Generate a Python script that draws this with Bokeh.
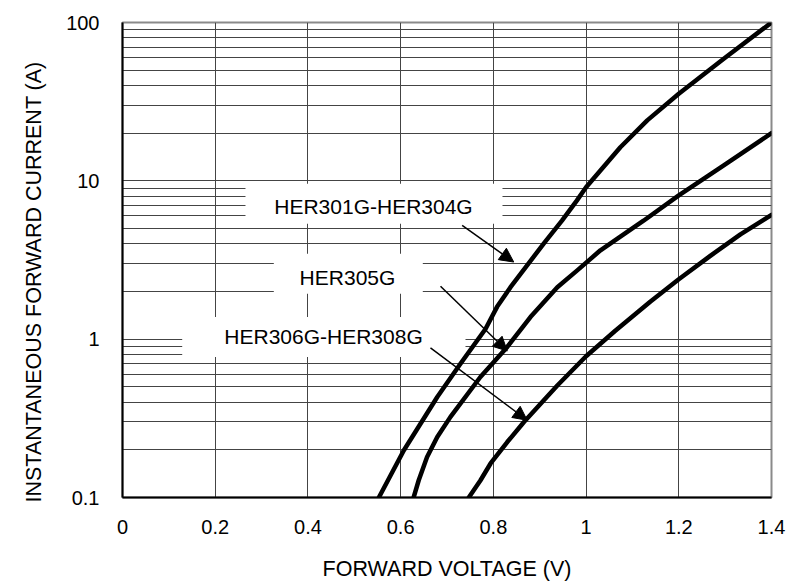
from bokeh.plotting import figure
from bokeh.models import (FixedTicker, CustomJSTickFormatter, Arrow, NormalHead,
                          Range1d, ColumnDataSource, Title)
from bokeh.embed import file_html
from bokeh.resources import INLINE
from bokeh.core.properties import value

# ---- axes ----
x_ticks = [0, 0.2, 0.4, 0.6, 0.8, 1.0, 1.2, 1.4]
y_ticks = [0.1, 1, 10, 100]
y_grid = [m * d for d in (0.1, 1, 10) for m in range(1, 10)] + [100]

# ---- curves (forward voltage V, forward current A) ----
v_her301 = [0.553, 0.607, 0.679, 0.729, 0.783, 0.808, 0.837, 0.909, 0.948, 0.980,
            1.0, 1.074, 1.132, 1.2, 1.297, 1.4]
i_her301 = [0.1, 0.199, 0.431, 0.70, 1.16, 1.60, 2.13, 4.03, 5.6, 7.5,
            9.1, 16.3, 24.1, 35.5, 59, 100]

v_her305 = [0.628, 0.639, 0.657, 0.679, 0.7075, 0.772, 0.830, 0.880, 0.938, 0.981,
            1.031, 1.124, 1.2, 1.297, 1.4]
i_her305 = [0.1, 0.1285, 0.18, 0.241, 0.323, 0.577, 0.893, 1.38, 2.13, 2.72,
            3.64, 5.6, 8.1, 12.5, 20]

v_her306 = [0.747, 0.772, 0.794, 0.830, 0.866, 0.938, 1.0, 1.063, 1.139, 1.2,
            1.268, 1.333, 1.4]
i_her306 = [0.1, 0.128, 0.164, 0.224, 0.30, 0.51, 0.78, 1.13, 1.73, 2.39,
            3.36, 4.59, 6.1]

# ---- annotations ----
label_text = ["HER301G-HER304G", "HER305G", "HER306G-HER308G"]
label_v = [0.5414, 0.4853, 0.4336]
label_i = [6.90, 2.458, 1.042]
box_left = [0.2653, 0.3264, 0.1288]
box_right = [0.8197, 0.6478, 0.7399]
box_top = [9.59, 3.467, 1.380]
box_bottom = [5.363, 1.939, 0.772]
arrow_v0 = [0.7327, 0.686, 0.6644]
arrow_i0 = [5.23, 2.157, 0.88]
arrow_v1 = [0.844, 0.830, 0.873]
arrow_i1 = [3.07, 0.842, 0.3075]

FONT = "Liberation Sans"

p = figure(width=800, height=585, x_range=Range1d(0, 1.4), y_range=Range1d(0.1, 100),
           y_axis_type="log", output_backend="svg", toolbar_location=None,
           min_border_left=122, min_border_right=29, min_border_top=22, min_border_bottom=88)

p.outline_line_color = "#8a8a8a"
p.outline_line_width = 2

p.xgrid.ticker = FixedTicker(ticks=x_ticks)
p.ygrid.ticker = FixedTicker(ticks=y_grid)
for g in (p.xgrid, p.ygrid):
    g.grid_line_color = "#444444"
    g.grid_line_width = 1

p.xaxis.ticker = FixedTicker(ticks=x_ticks)
p.yaxis.ticker = FixedTicker(ticks=y_ticks)
p.xaxis.formatter = CustomJSTickFormatter(code="return String(Math.round(tick*10)/10);")
p.yaxis.formatter = CustomJSTickFormatter(code="return String(tick);")

for ax in (p.xaxis, p.yaxis):
    ax.axis_line_color = "black"
    ax.axis_line_width = 2
    ax.major_tick_line_color = None
    ax.minor_tick_line_color = None
    ax.major_label_text_font = FONT
    ax.major_label_text_font_size = "20px"
    ax.major_label_text_color = "black"
    ax.axis_label_text_font = FONT
    ax.axis_label_text_font_size = "21.5px"
    ax.axis_label_text_font_style = "normal"
    ax.axis_label_text_color = "black"

p.xaxis.axis_label = "FORWARD VOLTAGE (V)"
p.xaxis.major_label_standoff = 16
p.yaxis.major_label_standoff = 17
p.xaxis.axis_label_standoff = 20

p.add_layout(Title(text="INSTANTANEOUS FORWARD CURRENT (A)", align="left", offset=-5,
                   standoff=36, text_font=FONT, text_font_size="21.5px",
                   text_font_style="normal", text_color="black"), "left")

# white label boxes
p.quad(left=box_left, right=box_right, top=box_top, bottom=box_bottom,
       fill_color="white", line_color=None)

for v, i in ((v_her301, i_her301), (v_her305, i_her305), (v_her306, i_her306)):
    p.line(v, i, line_color="black", line_width=4.5, line_join="round", line_cap="round")

p.text(x=label_v, y=label_i, text=label_text, text_align="center", text_baseline="middle",
       text_font=value(FONT), text_font_size="21px", text_color="black")

asrc = ColumnDataSource(dict(x0=arrow_v0, y0=arrow_i0, x1=arrow_v1, y1=arrow_i1))
p.add_layout(Arrow(end=NormalHead(size=14, fill_color="black", line_color="black"),
                   x_start="x0", y_start="y0", x_end="x1", y_end="y1",
                   line_width=1.5, line_color="black", source=asrc))

open("out.html", "w").write(file_html(p, INLINE))
